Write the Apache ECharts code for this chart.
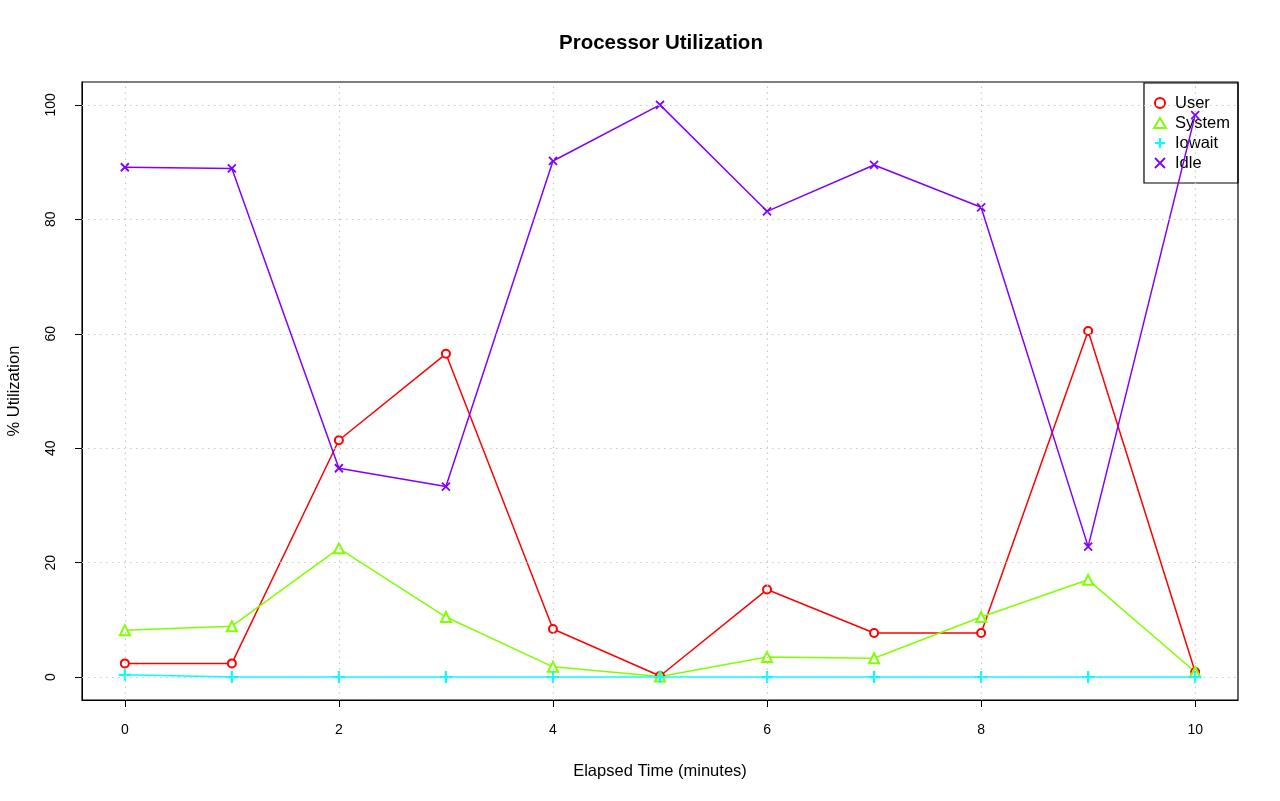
<!DOCTYPE html>
<html><head><meta charset="utf-8">
<script src="https://cdn.jsdelivr.net/npm/echarts@6/dist/echarts.min.js"></script>
<style>html,body{margin:0;padding:0;background:#fff}#c{width:1280px;height:801px}</style>
</head><body><div id="c"></div>
<script>
const minutes = [0,1,2,3,4,5,6,7,8,9,10];
const user   = [2.4, 2.4, 41.4, 56.5, 8.4, 0.2, 15.3, 7.7, 7.7, 60.5, 0.9];
const system = [8.2, 8.9, 22.5, 10.5, 1.8, 0.1, 3.5, 3.3, 10.5, 17.0, 0.9];
const iowait = [0.4, 0.0, 0.0, 0.0, 0.0, 0.0, 0.0, 0.0, 0.0, 0.0, 0.0];
const idle   = [89.1, 88.9, 36.5, 33.3, 90.2, 100.0, 81.4, 89.5, 82.1, 22.8, 98.2];
const xTicks = [0,2,4,6,8,10];
const yTicks = [0,20,40,60,80,100];
const seriesNames = ['User','System','Iowait','Idle'];
const colors = ['#FF0000','#80FF00','#00FFFF','#8000FF'];

const plusPath = 'path://M5,0L5,10M0,5L10,5';
const crossPath = 'path://M0,0L10,10M10,0L0,10';
const symbols = ['emptyCircle', 'emptyTriangle', plusPath, crossPath];
const sizes = [8, 10, 12, 8];
const widths = [1.8, 1.8, 2.2, 1.8];
const FONT = 'Liberation Sans, Arial, sans-serif';

function mk(idx, data) {
  const color = colors[idx];
  return {
    name: seriesNames[idx], type: 'line', data: minutes.map((m,i)=>[m,data[i]]),
    symbol: symbols[idx], symbolSize: sizes[idx], showAllSymbol: true,
    lineStyle: {color, width: 1.5},
    itemStyle: {color, borderColor: color, borderWidth: widths[idx]},
    z: 3, animation: false
  };
}

const chart = echarts.init(document.getElementById('c'), null, {renderer: 'canvas'});
const series = [
  mk(0, user), mk(1, system), mk(2, iowait), mk(3, idle),
  {
    type: 'line', data: [], silent: true,
    markLine: {
      silent: true, symbol: 'none', label: {show: false},
      lineStyle: {color: '#c8c8c8', type: [1.5, 4.5], width: 1.2},
      data: xTicks.map(v=>({xAxis: v})).concat(yTicks.map(v=>({yAxis: v})))
    },
    z: 1, animation: false
  }
];

chart.setOption({
  animation: false,
  title: {text: 'Processor Utilization', left: 554, top: 28,
    textStyle: {fontFamily: FONT, fontSize: 20.5, fontWeight: 'bold', color: '#000'}},
  grid: {left: 82, right: 42, top: 82, bottom: 101, show: true, borderColor: '#000', borderWidth: 1.2,
    backgroundColor: 'transparent', outerBoundsMode: 'none', containLabel: false},
  legend: {
    right: 42, top: 83, orient: 'vertical', itemGap: 0, itemWidth: 12, itemHeight: 10,
    borderColor: '#000', borderWidth: 1.2, padding: [10, 8, 10, 9], z: 1,
    textStyle: {fontFamily: FONT, fontSize: 16.5, lineHeight: 20, color: '#000', padding: [0,0,0,4]},
    data: seriesNames.map((n,i)=>({name: n, icon: symbols[i],
      itemStyle: {color: colors[i], borderColor: colors[i], borderWidth: widths[i]}})),
    backgroundColor: 'transparent'
  },
  xAxis: {
    type: 'value', min: -0.4, max: 10.4,
    name: 'Elapsed Time (minutes)', nameLocation: 'middle', nameGap: 63,
    nameTextStyle: {fontFamily: FONT, fontSize: 16.5, color: '#000'},
    axisLine: {show: true, onZero: false, lineStyle: {color: '#000', width: 1}},
    axisTick: {show: true, customValues: xTicks, length: 7, lineStyle: {color: '#000'}},
    axisLabel: {customValues: xTicks, fontFamily: FONT, fontSize: 14, color: '#000', margin: 23},
    splitLine: {show: false}
  },
  yAxis: {
    type: 'value', min: -4, max: 104,
    name: '% Utilization', nameLocation: 'middle', nameGap: 59, nameRotate: 90,
    nameTextStyle: {fontFamily: FONT, fontSize: 16.5, color: '#000'},
    axisLine: {show: true, onZero: false, lineStyle: {color: '#000', width: 1}},
    axisTick: {show: true, customValues: yTicks, length: 7, lineStyle: {color: '#000'}},
    axisLabel: {customValues: yTicks, rotate: 90, fontFamily: FONT, fontSize: 14, color: '#000', margin: 24},
    splitLine: {show: false}
  },
  series
});
</script></body></html>
